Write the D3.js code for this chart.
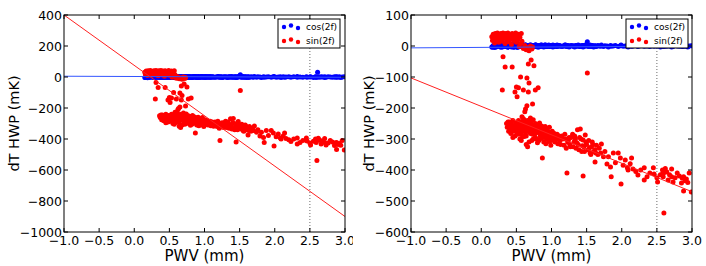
<!DOCTYPE html>
<html>
<head>
<meta charset="utf-8">
<script src="https://d3js.org/d3.v7.min.js"></script>
<style>
  body { margin: 0; background: #fff; }
  svg text { font-family: "DejaVu Sans", sans-serif; fill: #000; }
</style>
</head>
<body>
<svg width="706" height="266"></svg>
<script>
// PWV (mm) of each measurement, with the cos(2f) and sin(2f) HWP amplitudes (mK)
const pwv = [
  // top cluster
  0.15,0.16,0.17,0.18,0.19,0.20,0.21,0.22,0.23,0.24, 0.25,0.26,0.27,0.28,0.29,0.30,0.31,0.32,0.33,0.34,
  0.35,0.36,0.37,0.38,0.39,0.40,0.41,0.42,0.43,0.44, 0.45,0.46,0.47,0.48,0.49,0.50,0.51,0.52,0.53,0.54,
  0.55,0.56,0.57,0.58,0.60,0.62,0.64,0.66,0.68,0.70, 0.72,0.73,
  // transition
  0.31,0.34,0.44,0.71,0.67,0.75,0.56,0.65,0.68,0.30, 0.50,0.48,0.51,0.53,0.60,0.67,0.77,0.81,0.73,0.65,
  0.63,0.62,1.51,
  // main cluster
  0.36,0.37,0.38,0.39,0.40,0.41,0.42,0.43,0.44,0.45, 0.46,0.47,0.48,0.49,0.50,0.51,0.52,0.53,0.54,0.55,
  0.56,0.57,0.58,0.59,0.60,0.61,0.62,0.63,0.64,0.65, 0.66,0.67,0.68,0.69,0.70,0.71,0.72,0.73,0.74,0.75,
  0.76,0.77,0.78,0.79,0.80,0.81,0.82,0.83,0.84,0.85, 0.86,0.87,0.88,0.89,0.90,0.91,0.92,0.93,0.94,0.95,
  0.96,0.97,0.98,0.99,1.00,1.01,1.02,1.03,1.04,1.05, 1.06,1.07,1.08,1.09,1.10,0.64,0.66,0.68,0.55,0.45,
  0.72,0.80,0.58,0.62,0.70,0.87,0.50,0.53,0.57,0.61, 0.66,0.69,0.74,0.78,0.82,0.86,0.90,0.95,1.00,1.05,
  0.40,0.43,0.47,0.52,0.56,0.60,0.63,0.67,0.71,0.76, 0.79,0.84,0.88,0.93,0.97,1.02,1.08,0.59,0.65,0.73,
  0.82,0.85,0.89,0.92,0.96,0.99,0.77,0.74,0.61,0.57,
  // tail
  1.12,1.15,1.18,1.20,1.22,1.23,1.25,1.27,1.30,1.32, 1.34,1.35,1.37,1.38,1.40,1.41,1.43,1.45,1.45,1.46,
  1.48,1.50,1.52,1.53,1.55,1.57,1.58,1.60,1.62,1.62, 1.64,1.66,1.68,1.70,1.71,1.74,1.76,1.79,1.81,1.84,
  1.85,1.88,1.91,1.95,1.98,1.99,2.02,2.05,2.08,2.09, 2.12,2.14,2.16,2.20,2.23,2.27,2.32,2.32,2.36,2.40,
  2.45,2.46,2.50,2.51,2.55,2.58,2.58,2.59,2.60,2.62, 2.64,2.66,2.68,2.71,2.71,2.73,2.76,2.79,2.82,2.85,
  2.86,2.88,2.88,2.90,2.92,2.94,2.96,2.99,2.61,
  1.11,1.13,1.16,1.19,1.21,1.24,1.26,1.28,1.31,1.33, 1.36,1.39,1.42,1.44,1.47,1.49,1.54,1.56,1.59,1.63
];
const sin2f = [
  30,18,38,25,10,40,33,20,42,28, 12,36,22,40,30,15,42,26,35,8,
  40,20,32,42,14,28,38,22,5,40, 30,18,36,25,42,12,33,20,38,-2,
  28,8,40,15,-8,2,-12,-5,-15,0, -10,-3,
  -35,-68,-68,-45,-58,-64,-100,-103,-119,-142, -132,-148,-164,-135,-142,-148,-142,-135,-187,-193,
  -203,-212,-87,
  -250,-262,-245,-275,-255,-268,-282,-250,-262,-240, -275,-258,-290,-248,-266,-280,-252,-240,-270,-258,
  -285,-245,-262,-275,-235,-255,-268,-248,-290,-260, -240,-275,-252,-265,-282,-245,-258,-270,-238,-262,
  -285,-250,-268,-300,-255,-275,-262,-248,-290,-270, -258,-280,-265,-295,-272,-260,-285,-300,-270,-288,
  -278,-262,-295,-282,-305,-275,-290,-298,-282,-310, -292,-300,-285,-315,-295,-318,-325,-310,-300,-295,
  -305,-312,-228,-240,-232,-361,-272,-262,-278,-268, -258,-250,-275,-255,-280,-272,-288,-300,-290,-292,
  -245,-270,-265,-285,-262,-250,-280,-262,-268,-258, -278,-262,-282,-275,-290,-280,-300,-292,-272,-285,
  -305,-298,-310,-315,-308,-320,-295,-300,-292,-305,
  -305,-290,-320,-300,-410,-310,-295,-325,-285,-310, -300,-330,-270,-318,-295,-268,-340,-303,-419,-325,
  -287,-318,-335,-305,-345,-325,-310,-340,-335,-374, -320,-350,-330,-345,-316,-357,-340,-381,-357,-390,
  -422,-345,-377,-345,-361,-445,-385,-368,-393,-400, -380,-361,-397,-405,-416,-400,-393,-432,-422,-410,
  -393,-413,-425,-439,-415,-400,-413,-422,-539,-395, -406,-432,-415,-397,-422,-439,-425,-410,-419,-442,
  -426,-422,-468,-435,-429,-440,-410,-471,-408,
  -290,-318,-300,-285,-330,-305,-318,-295,-325,-290, -312,-335,-300,-322,-340,-310,-328,-350,-318,-345
];
const cos2f = [
  -3,-4,2,-2,-5,1,-3,0,3,-1, 4,-2,2,-4,1,-3,5,-1,0,3,
  -2,6,1,-3,2,10,-1,4,0,-2, 3,-4,7,1,-1,2,-3,0,5,-2,
  1,-1,3,-2,0,-3,1,-2,2,-1, 1,-2,
  2,-1,4,-3,1,-2,3,0,-4,2, -1,1,-3,5,-2,0,3,-1,2,-4,
  1,-2,14,
  -2,1,-4,3,0,-1,2,-3,4,-2, 1,-3,0,2,-1,3,-4,1,0,-2,
  2,-1,5,-3,0,1,-2,3,-1,0, -3,2,1,-2,4,0,-1,2,-3,1,
  0,-2,3,-1,2,-4,1,0,-2,3, -1,2,0,-3,1,4,-2,0,1,-1,
  3,-2,0,2,-1,1,-3,0,2,-1, 1,-2,3,0,-1,2,-3,1,0,-2,
  2,-1,0,3,-2,1,-1,4,0,-3, 1,-2,2,0,-1,3,-2,1,0,2,
  -1,0,2,-3,1,-1,3,0,-2,1, -1,2,0,-2,1,3,-1,0,2,-3,
  -1,2,0,-2,1,0,3,-1,2,-2,
  1,-2,0,3,-1,2,-3,0,1,-2, 2,0,-1,3,-2,1,0,-3,2,-1,
  1,6,-2,0,3,-1,2,-3,0,1, -2,2,0,-1,3,-2,1,0,-3,2,
  -1,0,2,-2,1,3,-1,0,2,-3, 1,-1,0,2,-2,1,3,-1,0,-2,
  2,-1,0,1,-3,2,0,-1,-2,1, -1,2,0,-3,1,-2,2,0,-1,1,
  -2,0,1,-1,2,-3,0,1,30,
  2,-1,0,3,-2,1,-1,2,0,-3, 1,0,-2,2,-1,3,0,-2,1,-1
];

// linear fits (value at each end of the PWV range)
const fitX = [-1, 3];
const leftCosFit = [5, -2];
const leftSinFit = [400, -900];
const rightCosFit = [-6, 0];
const rightSinFit = [-103, -470];

const xTicks = [-1, -0.5, 0, 0.5, 1, 1.5, 2, 2.5, 3];
const leftYTicks = [400, 200, 0, -200, -400, -600, -800, -1000];
const rightYTicks = [100, 0, -100, -200, -300, -400, -500, -600];
const markerPwv = 2.5;
const seriesNames = ['cos(2f)', 'sin(2f)'];
const seriesColors = ['#0000ff', '#ff0000'];

const points = pwv.map((p, i) => ({ p: p, c: cos2f[i], s: sin2f[i] }));

const svg = d3.select('svg');
const plotTop = 15, plotBottom = 232;

function drawPanel(id, left, right, clipW, yTicks, cosFit, sinFit, titleX, legendX) {
  const x = d3.scaleLinear().domain([-1, 3]).range([left, right]);
  const y = d3.scaleLinear().domain([yTicks[yTicks.length - 1], yTicks[0]]).range([plotBottom, plotTop]);

  const defs = svg.append('defs');
  defs.append('clipPath').attr('id', id + '-all')
    .append('rect').attr('x', clipW - 353).attr('y', 0).attr('width', 353).attr('height', 266);
  defs.append('clipPath').attr('id', id + '-plot')
    .append('rect').attr('x', left).attr('y', plotTop).attr('width', right - left).attr('height', plotBottom - plotTop);

  const g = svg.append('g').attr('clip-path', `url(#${id}-all)`);
  const plot = g.append('g').attr('clip-path', `url(#${id}-plot)`);

  plot.append('line')
    .attr('x1', x(markerPwv)).attr('x2', x(markerPwv))
    .attr('y1', plotTop).attr('y2', plotBottom)
    .attr('stroke', '#444').attr('stroke-width', 0.8).attr('stroke-dasharray', '1,2');

  plot.append('g').selectAll('circle').data(points).join('circle')
    .attr('cx', d => x(d.p)).attr('cy', d => y(d.c)).attr('r', 2.5)
    .attr('fill', seriesColors[0]);
  plot.append('g').selectAll('circle').data(points).join('circle')
    .attr('cx', d => x(d.p)).attr('cy', d => y(d.s)).attr('r', 2.5)
    .attr('fill', seriesColors[1]);

  const line = d3.line().x(d => x(d[0])).y(d => y(d[1]));
  plot.append('path').datum(fitX.map((v, i) => [v, cosFit[i]]))
    .attr('d', line).attr('fill', 'none').attr('stroke', '#3355ff').attr('stroke-width', 1);
  plot.append('path').datum(fitX.map((v, i) => [v, sinFit[i]]))
    .attr('d', line).attr('fill', 'none').attr('stroke', '#ff2020').attr('stroke-width', 1);

  // frame and inward ticks
  g.append('rect').attr('x', left).attr('y', plotTop)
    .attr('width', right - left).attr('height', plotBottom - plotTop)
    .attr('fill', 'none').attr('stroke', '#000').attr('stroke-width', 1);

  const fx = d3.format('.1f');
  xTicks.forEach(t => {
    const px = x(t);
    g.append('line').attr('x1', px).attr('x2', px).attr('y1', plotBottom).attr('y2', plotBottom - 4).attr('stroke', '#000');
    g.append('line').attr('x1', px).attr('x2', px).attr('y1', plotTop).attr('y2', plotTop + 4).attr('stroke', '#000');
    g.append('text').attr('x', px).attr('y', 245).attr('text-anchor', 'middle')
      .style('font-size', '12.5px').text(fx(t));
  });
  const fy = d3.format('d');
  yTicks.forEach(t => {
    const py = y(t);
    g.append('line').attr('x1', left).attr('x2', left + 4).attr('y1', py).attr('y2', py).attr('stroke', '#000');
    g.append('line').attr('x1', right).attr('x2', right - 4).attr('y1', py).attr('y2', py).attr('stroke', '#000');
    g.append('text').attr('x', left - 2).attr('y', py).attr('dy', '0.36em').attr('text-anchor', 'end')
      .style('font-size', '12.5px').text(fy(t));
  });

  g.append('text').attr('x', (left + right) / 2).attr('y', 261).attr('text-anchor', 'middle')
    .style('font-size', '15px').text('PWV (mm)');
  g.append('text').attr('transform', `translate(${titleX},${(plotTop + plotBottom) / 2}) rotate(-90)`)
    .attr('text-anchor', 'middle').style('font-size', '14.5px').text('dT HWP (mK)');

  // legend
  const lg = g.append('g').attr('transform', `translate(${legendX},19)`);
  lg.append('rect').attr('width', 62).attr('height', 29)
    .attr('fill', '#fff').attr('stroke', '#000').attr('stroke-width', 1);
  const dotDy = [0.5, -1, 1.5];
  seriesNames.forEach((name, i) => {
    const cy = 7.5 + i * 14;
    dotDy.forEach((dy, k) => {
      lg.append('circle').attr('cx', 6 + k * 7).attr('cy', cy + dy).attr('r', 2.2).attr('fill', seriesColors[i]);
    });
    lg.append('text').attr('x', 28).attr('y', cy).attr('dy', '0.36em')
      .style('font-size', '9px').text(name);
  });
}

drawPanel('L', 64, 345, 353, leftYTicks, leftCosFit, leftSinFit, 19, 278);
drawPanel('R', 411, 692, 706, rightYTicks, rightCosFit, rightSinFit, 374, 626);
</script>
</body>
</html>
